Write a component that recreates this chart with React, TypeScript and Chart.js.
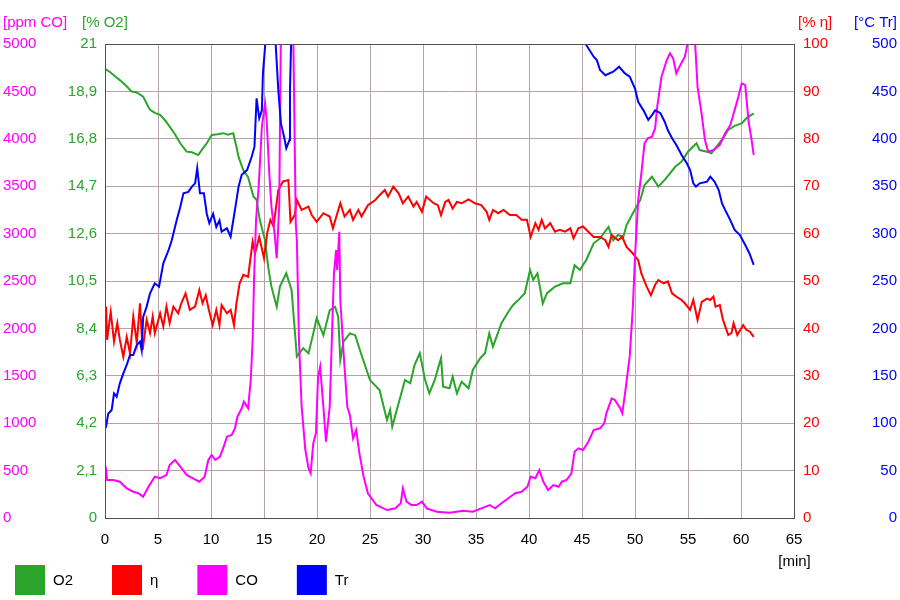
import React, { useEffect, useRef } from 'react';
import { Chart, registerables } from 'chart.js';

Chart.register(...registerables);

// ---- data (time in minutes, value) ----
const o2Series: [number, number][] = [
  [0, 19.9], [0.5, 19.75], [1.0, 19.55], [1.4, 19.4], [2.0, 19.15], [2.5, 18.9], [3.0, 18.85], [3.6, 18.67],
  [4.0, 18.3], [4.25, 18.08], [4.7, 17.95], [5.2, 17.86], [5.7, 17.6], [6.1, 17.34], [6.6, 17.0], [7.1, 16.6],
  [7.7, 16.23], [8.2, 16.2], [8.8, 16.08], [9.2, 16.35], [9.6, 16.6], [10.07, 16.97], [10.6, 17.0], [11.16, 17.05],
  [11.6, 16.98], [12.1, 17.05], [12.4, 16.45], [12.6, 16.0], [13.05, 15.4], [13.5, 15.1], [14.0, 14.24], [14.3, 14.1],
  [14.6, 13.2], [15.1, 12.3], [15.4, 11.1], [15.7, 10.25], [16.2, 9.36], [16.5, 10.25], [17.1, 10.84], [17.6, 10.1],
  [18.1, 7.15], [18.7, 7.52], [19.2, 7.3], [19.65, 8.18], [19.97, 8.85], [20.6, 8.1], [21.2, 9.2], [21.7, 9.36],
  [22.0, 8.92], [22.2, 7.0], [22.5, 7.81], [23.1, 8.18], [23.6, 8.1], [24.2, 7.22], [25.0, 6.11], [25.9, 5.67],
  [26.6, 4.34], [26.9, 4.79], [27.1, 4.05], [27.7, 5.08], [28.3, 6.11], [28.8, 5.97], [29.2, 6.78], [29.7, 7.3],
  [30.2, 6.11], [30.6, 5.52], [31.1, 6.11], [31.7, 7.08], [31.9, 5.82], [32.5, 5.75], [32.8, 6.26], [33.2, 5.52],
  [33.65, 6.04], [34.3, 5.75], [34.7, 6.56], [35.4, 7.08], [35.85, 7.3], [36.25, 8.18], [36.6, 7.59], [37.4, 8.63],
  [38.05, 9.14], [38.5, 9.44], [39.15, 9.73], [39.6, 9.96], [40.1, 10.99], [40.4, 10.55], [40.8, 10.84], [41.3, 9.51],
  [41.7, 9.96], [42.45, 10.25], [43.2, 10.4], [43.9, 10.4], [44.3, 11.2], [44.8, 10.99], [45.4, 11.43], [46.1, 12.17],
  [46.7, 12.39], [47.5, 12.9], [47.95, 12.3], [48.4, 12.54], [48.9, 12.46], [49.2, 12.98], [49.8, 13.5], [50.5, 14.09],
  [50.9, 14.75], [51.6, 15.12], [52.2, 14.68], [52.8, 14.98], [53.3, 15.27], [53.8, 15.56], [54.4, 15.79], [55.0, 16.23],
  [55.8, 16.6], [56.1, 16.3], [56.8, 16.23], [57.2, 16.16], [57.7, 16.45], [58.3, 16.82], [58.8, 17.19], [59.4, 17.37],
  [60.1, 17.49], [60.5, 17.71], [61.2, 17.93],
];

const etaSeries: [number, number][] = [
  [0, 41], [0.1, 44.6], [0.2, 37.6], [0.54, 43.5], [0.85, 37.2], [1.16, 41.1], [1.4, 37.6], [1.73, 34.0],
  [2.05, 38.2], [2.36, 34.7], [2.67, 42.5], [3.0, 36.9], [3.3, 45.3], [3.55, 35.4], [3.93, 41.8], [4.25, 39.0],
  [4.5, 42.5], [4.7, 39.0], [5.2, 43.2], [5.5, 40.4], [5.8, 44.6], [6.1, 41.1], [6.45, 44.6], [6.9, 43.2],
  [7.2, 45.3], [7.6, 47.4], [8.0, 43.9], [8.5, 44.6], [8.9, 48.1], [9.2, 45.3], [9.5, 47.0], [9.8, 43.9],
  [10.16, 40.7], [10.5, 43.9], [10.8, 40.7], [11.0, 44.9], [11.5, 43.2], [11.85, 43.9], [12.17, 40.7], [12.4, 45.3],
  [12.7, 49.5], [13.05, 51.3], [13.5, 50.9], [13.93, 58.3], [14.15, 55.8], [14.55, 59.3], [15.0, 54.8], [15.3, 60.1],
  [15.6, 62.9], [15.9, 61.5], [16.35, 69.2], [16.8, 71.0], [17.3, 71.3], [17.5, 62.5], [17.9, 63.9], [18.1, 67.1],
  [18.55, 65.0], [19.2, 65.7], [19.5, 63.9], [19.97, 62.5], [20.6, 64.3], [21.2, 63.6], [21.5, 61.1], [22.2, 66.4],
  [22.6, 63.6], [23.1, 65.0], [23.4, 62.9], [23.9, 65.0], [24.2, 63.6], [24.8, 66.0], [25.5, 67.1], [25.9, 68.1],
  [26.4, 69.2], [26.7, 67.8], [27.2, 69.9], [27.7, 68.5], [28.1, 66.4], [28.6, 67.8], [29.1, 65.7], [29.4, 66.7],
  [29.9, 64.6], [30.3, 67.8], [31.0, 66.4], [31.4, 66.0], [31.7, 63.9], [32.1, 66.7], [32.4, 67.1], [32.8, 65.3],
  [33.2, 66.7], [33.65, 66.4], [34.3, 67.2], [34.9, 66.4], [35.5, 66.0], [36.0, 64.6], [36.25, 62.9], [36.6, 65.0],
  [37.1, 64.3], [37.6, 65.0], [38.2, 63.9], [38.8, 63.9], [39.3, 62.9], [39.8, 62.9], [40.16, 59.3], [40.6, 62.2],
  [40.9, 60.8], [41.2, 62.9], [41.5, 61.1], [42.0, 62.2], [42.45, 60.4], [42.9, 60.8], [43.4, 60.4], [43.9, 61.1],
  [44.2, 59.0], [44.65, 61.1], [45.1, 61.5], [45.6, 60.4], [46.1, 59.3], [46.7, 59.3], [47.2, 58.6], [47.5, 57.2],
  [47.8, 59.7], [48.4, 58.6], [48.8, 59.3], [49.2, 57.2], [49.8, 55.8], [50.3, 54.4], [50.6, 51.6], [51.1, 48.8],
  [51.5, 47.0], [51.9, 49.2], [52.2, 50.2], [52.7, 49.5], [53.1, 49.9], [53.5, 47.4], [53.9, 46.7], [54.4, 46.0],
  [54.7, 45.3], [55.2, 43.9], [55.5, 46.0], [55.9, 41.8], [56.3, 45.6], [56.8, 46.3], [57.1, 46.0], [57.4, 46.7],
  [57.6, 44.6], [58.0, 44.9], [58.3, 41.8], [58.8, 38.6], [59.1, 39.0], [59.3, 41.1], [59.65, 38.6], [60.2, 40.7],
  [60.5, 39.7], [60.85, 39.3], [61.2, 38.2],
];

const coSeries: [number, number][] = [
  [0, 480], [0.1, 506], [0.2, 400], [0.8, 400], [1.4, 383], [2.05, 313], [2.67, 277], [3.15, 261], [3.6, 225],
  [4.1, 330], [4.7, 436], [5.2, 419], [5.8, 454], [6.1, 559], [6.6, 612], [7.1, 541], [7.7, 454], [8.3, 419],
  [8.9, 383], [9.4, 436], [9.75, 612], [10.06, 665], [10.4, 612], [10.85, 647], [11.2, 752], [11.5, 858],
  [11.95, 876], [12.26, 946], [12.5, 1069], [12.9, 1157], [13.1, 1227], [13.5, 1157], [13.75, 1456], [13.93, 1878],
  [14.06, 2511], [14.25, 3143], [14.5, 3495], [14.8, 4128], [15.1, 4374], [15.25, 4198], [15.5, 3636], [15.7, 3284],
  [16.0, 3003], [16.2, 2740], [16.44, 3300], [16.6, 5200], [17.0, 6000], [17.5, 6000], [17.75, 5200], [18.0, 3100],
  [18.1, 2932], [18.3, 1878], [18.55, 1174], [18.9, 717], [19.2, 524], [19.4, 471], [19.65, 788], [19.9, 893],
  [20.1, 1491], [20.3, 1596], [20.6, 1174], [20.85, 805], [21.2, 1174], [21.4, 1878], [21.6, 2581], [21.8, 2827],
  [21.9, 2616], [22.1, 3020], [22.2, 2300], [22.55, 1667], [22.86, 1174], [23.1, 1087], [23.4, 840], [23.7, 928],
  [24.0, 682], [24.4, 436], [24.8, 261], [25.6, 137], [26.6, 84], [27.4, 102], [27.9, 155], [28.1, 313],
  [28.45, 172], [28.9, 137], [29.4, 137], [29.9, 172], [30.35, 102], [31.3, 66], [32.5, 56], [33.8, 77],
  [34.7, 66], [35.5, 102], [36.3, 137], [36.8, 102], [37.4, 155], [38.05, 208], [38.7, 261], [39.3, 277],
  [39.85, 330], [40.16, 436], [40.6, 419], [40.97, 506], [41.35, 383], [41.8, 295], [42.3, 348], [42.8, 330],
  [43.1, 383], [43.55, 401], [44.0, 471], [44.3, 700], [44.65, 735], [45.1, 717], [45.6, 805], [46.1, 928],
  [46.7, 946], [47.1, 999], [47.3, 1104], [47.8, 1262], [48.1, 1245], [48.6, 1157], [48.8, 1104], [49.1, 1350],
  [49.5, 1702], [49.8, 2229], [50.0, 2756], [50.3, 3354], [50.6, 3636], [50.9, 3952], [51.2, 4005], [51.6, 4022],
  [51.9, 4110], [52.1, 4339], [52.5, 4655], [53.0, 4831], [53.3, 4902], [53.6, 4849], [53.9, 4691], [54.2, 4761],
  [54.7, 4866], [54.9, 4972], [55.2, 5150], [55.5, 5150], [55.65, 5050], [55.9, 4550], [56.3, 4250], [56.6, 3987],
  [56.9, 3864], [57.4, 3882], [58.0, 3935], [58.5, 4058], [59.0, 4146], [59.4, 4304], [59.75, 4444], [60.06, 4585],
  [60.4, 4567], [60.7, 4198], [61.0, 3987], [61.2, 3829],
];

const trSeries: [number, number][] = [
  [0, 95], [0.1, 96], [0.3, 110], [0.63, 114], [0.85, 131.5], [1.1, 128], [1.4, 142], [1.73, 152.6],
  [2.05, 161.4], [2.36, 172], [2.67, 172], [3.0, 182.5], [3.3, 186], [3.46, 177], [3.6, 212], [3.93, 223],
  [4.25, 237], [4.7, 247.6], [5.1, 244], [5.5, 268.7], [6.0, 282.7], [6.3, 293], [6.76, 314], [7.1, 328],
  [7.4, 342.5], [7.86, 344], [8.2, 349.5], [8.5, 353], [8.7, 369], [8.96, 342.5], [9.33, 342.5], [9.6, 321],
  [9.84, 311], [10.2, 321], [10.5, 307], [10.8, 314], [11.0, 302], [11.5, 305.6], [11.85, 296.7], [12.26, 325],
  [12.6, 349.5], [12.9, 362], [13.4, 367], [13.84, 381], [14.1, 391.7], [14.3, 442.7], [14.55, 421.6], [14.8, 430],
  [14.9, 469], [15.1, 497], [15.4, 540], [15.8, 540], [16.1, 500], [16.35, 451], [16.6, 416], [16.9, 402],
  [17.1, 390], [17.4, 398.7], [17.45, 451], [17.6, 520], [18.0, 600], [30.0, 650], [45.0, 540], [45.4, 499],
  [46.1, 486.6], [46.4, 483], [46.7, 472.6], [47.2, 467], [47.95, 470.8], [48.5, 476], [49.05, 469], [49.5, 465.5],
  [50.0, 453], [50.3, 439], [50.8, 430], [51.25, 420], [51.6, 425], [51.9, 430], [52.4, 427], [52.8, 418],
  [53.1, 409], [53.5, 400.5], [53.9, 393.5], [54.4, 383], [54.9, 374], [55.2, 367], [55.5, 353], [55.75, 349.5],
  [56.1, 353], [56.8, 354.8], [57.1, 360], [57.5, 354.8], [57.9, 346], [58.2, 332], [58.5, 325], [59.0, 314],
  [59.4, 303.8], [59.9, 298.5], [60.4, 288], [60.8, 279], [61.2, 267],
];

const seriesLabels = ['O2', 'η', 'CO', 'Tr'];
const axisTitles = ['[ppm CO]', '[% O2]', '[% η]', '[°C Tr]'];
const xUnitLabel = '[min]';

const GREEN = '#2aa52a';
const RED = '#ff0000';
const MAGENTA = '#ff00ff';
const BLUE = '#0000ff';
const GRID = '#b4a2a9';
const FONT_FAMILY = '"Liberation Sans", Arial, sans-serif';
const FONT_PX = 15;

const toXY = (s: [number, number][]) => s.map(([x, y]) => ({ x, y }));

const decorations = {
  id: 'decorations',
  afterDraw(chart: any) {
    const { ctx, chartArea: a } = chart;
    ctx.save();
    const l = Math.round(a.left), r = Math.round(a.right), t = Math.round(a.top), b = Math.round(a.bottom);
    ctx.strokeStyle = '#505050';
    ctx.lineWidth = 1;
    ctx.strokeRect(l + 0.5, t + 0.5, r - l, b - t);

    ctx.font = `${FONT_PX}px ${FONT_FAMILY}`;
    ctx.textBaseline = 'middle';
    ctx.textAlign = 'left';
    ctx.fillStyle = MAGENTA;
    ctx.fillText(axisTitles[0], 3, 23);
    ctx.fillStyle = GREEN;
    ctx.fillText(axisTitles[1], 82, 23);
    ctx.fillStyle = RED;
    ctx.fillText(axisTitles[2], 798, 23);
    ctx.textAlign = 'right';
    ctx.fillStyle = BLUE;
    ctx.fillText(axisTitles[3], 897, 23);

    ctx.textAlign = 'center';
    ctx.fillStyle = '#000';
    ctx.fillText(xUnitLabel, r + 0.5, 562);

    const colors = [GREEN, RED, MAGENTA, BLUE];
    let x = 15;
    ctx.textAlign = 'left';
    seriesLabels.forEach((lab, i) => {
      ctx.fillStyle = colors[i];
      ctx.fillRect(x, 565, 30, 30);
      ctx.fillStyle = '#000';
      const tx = x + 38;
      ctx.fillText(lab, tx, 581);
      x = tx + ctx.measureText(lab).width + 39;
    });
    ctx.restore();
  },
};

const fmtO2 = (v: number) => {
  const r = Math.round(v * 10) / 10;
  return Number.isInteger(r) ? String(r) : r.toFixed(1).replace('.', ',');
};

export default function App() {
  const ref = useRef<HTMLCanvasElement | null>(null);
  useEffect(() => {
    if (!ref.current) return;
    const font = { family: FONT_FAMILY, size: FONT_PX };
    const chart = new Chart(ref.current, {
      type: 'line',
      data: {
        datasets: [
          { label: seriesLabels[0], data: toXY(o2Series), yAxisID: 'yO2', borderColor: GREEN, order: 3 },
          { label: seriesLabels[1], data: toXY(etaSeries), yAxisID: 'yEta', borderColor: RED, order: 2 },
          { label: seriesLabels[2], data: toXY(coSeries), yAxisID: 'yCO', borderColor: MAGENTA, order: 1 },
          { label: seriesLabels[3], data: toXY(trSeries), yAxisID: 'yTr', borderColor: BLUE, order: 0 },
        ].map((d) => ({ ...d, borderWidth: 2, pointRadius: 0, tension: 0, fill: false })) as any,
      },
      options: {
        animation: false,
        responsive: false,
        maintainAspectRatio: false,
        layout: { padding: { left: 3, right: 3, top: 44, bottom: 0 } },
        plugins: { legend: { display: false }, tooltip: { enabled: false } },
        scales: {
          x: {
            type: 'linear', position: 'bottom', min: 0, max: 65,
            ticks: { stepSize: 5, color: '#000', font, padding: 13, maxRotation: 0, autoSkip: false, callback: (v: any) => String(v) },
            grid: { color: GRID, drawTicks: false, lineWidth: 1 },
            border: { display: false },
            afterFit: (s: any) => { s.height = 82; },
          },
          yO2: {
            type: 'linear', position: 'left', weight: 0, min: 0, max: 21,
            ticks: { count: 11, color: GREEN, font, padding: 8, crossAlign: 'near', callback: (v: any) => fmtO2(Number(v)) },
            grid: { display: false, drawTicks: false },
            border: { display: false },
            afterFit: (s: any) => { s.width = 55; },
          },
          yCO: {
            type: 'linear', position: 'left', weight: 1, min: 0, max: 5000,
            ticks: { count: 11, color: MAGENTA, font, padding: 0, crossAlign: 'far', callback: (v: any) => String(Math.round(Number(v))) },
            grid: { color: GRID, drawTicks: false, lineWidth: 1 },
            border: { display: false },
            afterFit: (s: any) => { s.width = 47; },
          },
          yEta: {
            type: 'linear', position: 'right', weight: 0, min: 0, max: 100,
            ticks: { count: 11, color: RED, font, padding: 9, crossAlign: 'near', callback: (v: any) => String(Math.round(Number(v))) },
            grid: { display: false, drawTicks: false },
            border: { display: false },
            afterFit: (s: any) => { s.width = 50; },
          },
          yTr: {
            type: 'linear', position: 'right', weight: 1, min: 0, max: 500,
            ticks: { count: 11, color: BLUE, font, padding: 0, crossAlign: 'far', callback: (v: any) => String(Math.round(Number(v))) },
            grid: { display: false, drawTicks: false },
            border: { display: false },
            afterFit: (s: any) => { s.width = 53; },
          },
        } as any,
      },
      plugins: [decorations],
    });
    return () => chart.destroy();
  }, []);

  return (
    <div style={{ position: 'absolute', left: 0, top: 0, width: 900, height: 600, background: '#fff' }}>
      <canvas ref={ref} width={900} height={600} style={{ display: 'block' }} />
    </div>
  );
}
